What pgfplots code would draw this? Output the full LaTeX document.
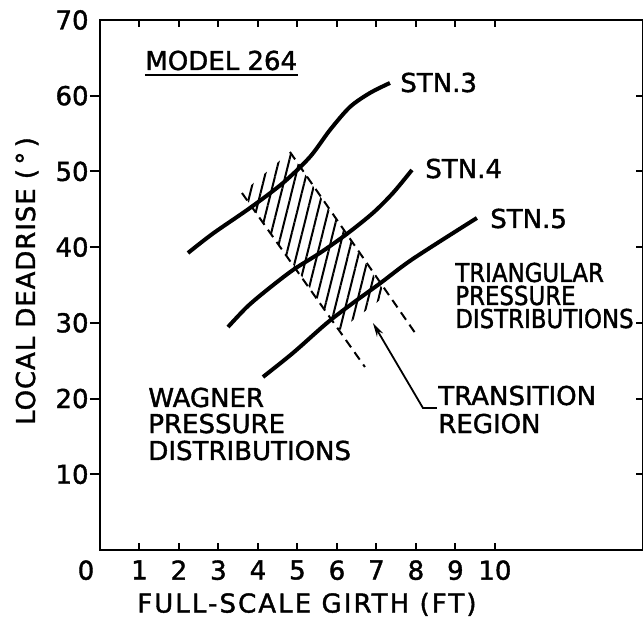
\documentclass[border=0pt]{standalone}
\usepackage{fontspec}
\setmainfont{DejaVu Sans}[FakeBold=1.5]
\usepackage{pgfplots}
\pgfplotsset{compat=1.18}
\usetikzlibrary{patterns.meta,arrows.meta}

\begin{document}
\begin{tikzpicture}[font=\fontsize{13}{15}\selectfont]
\begin{axis}[
  name=ax,
  scale only axis, width=271.5pt, height=265pt,
  xmin=0, xmax=13.75, ymin=0, ymax=70,
  clip=false,
  axis line style={line width=1.2pt},
  xtick={1,...,10}, xtick pos=both,
  ytick={10,20,...,70}, ytick pos=right, yticklabel pos=left,
  tick align=inside, major tick length=3.5pt,
  tick style={line width=1pt, black},
  /pgf/number format/assume math mode=true,
  tick label style={font=\fontsize{13}{15}\selectfont},
  xticklabel style={inner sep=0pt, anchor=north, yshift=-5pt},
  yticklabel style={inner sep=0pt, anchor=east, xshift=-5.5pt},
  xlabel={\addfontfeature{LetterSpace=8}FULL-SCALE GIRTH (FT)},
  ylabel={\addfontfeature{LetterSpace=3.5}LOCAL DEADRISE (\,°\,)},
  every axis x label/.style={at={(axis description cs:0.381,-0.118)}, anchor=base, inner sep=0pt},
  every axis y label/.style={at={(axis description cs:-0.1197,0.5075)}, anchor=base, rotate=90, inner sep=0pt},
]
% transition region (hatched band)
\addplot[draw=none, pattern={Lines[angle=76,distance=5pt,line width=1pt]}]
  coordinates {(3.595,47.15) (4.810,52.57) (7.266,33.68) (6.076,29.06) (3.595,47.15)};
\addplot[line width=1pt, dash pattern=on 4.5pt off 3pt]
  coordinates {(3.595,47.15) (6.709,24.17)};
\addplot[line width=1pt, dash pattern=on 4.5pt off 3pt]
  coordinates {(4.810,52.57) (8.051,28.13)};
% STN.3
\addplot[line width=2pt, smooth] coordinates {
  (2.228,39.23) (2.861,41.80) (3.797,45.17) (4.633,48.47) (5.316,51.91)
  (5.823,55.47) (6.329,58.51) (6.835,60.36) (7.342,61.68)};
% STN.4
\addplot[line width=2pt, smooth] coordinates {
  (3.241,29.45) (3.722,32.10) (4.228,34.34) (4.886,36.98) (5.570,39.23)
  (6.253,41.75) (6.911,44.51) (7.418,47.15) (7.899,50.19)};
% STN.5
\addplot[line width=2pt, smooth] coordinates {
  (4.127,22.85) (4.886,26.02) (5.747,29.98) (6.405,32.62) (7.089,35.20)
  (7.924,38.45) (9.544,43.85)};

\coordinate (BL) at (rel axis cs:0,0);
\coordinate (TR) at (rel axis cs:1,1);

\node[anchor=north, inner sep=0pt, xshift=-7pt, yshift=-5pt] at (axis cs:0,0) {0};

\node[anchor=base west, inner sep=0pt] (M) at (axis cs:1.139,63.40) {MODEL 264};
\draw[line width=1pt] ([yshift=-2.5pt]M.base west) -- ([yshift=-2.5pt]M.base east);

\node[anchor=base west, inner sep=0pt] at (axis cs:7.595,60.49) {STN.3};
\node[anchor=base west, inner sep=0pt] at (axis cs:8.228,49.13) {STN.4};
\node[anchor=base west, inner sep=0pt] at (axis cs:9.873,42.53) {STN.5};

\begin{scope}[font=\fontsize{13}{15}\selectfont\addfontfeature{FakeStretch=0.88,FakeBold=1.5}]
\node[anchor=base west, inner sep=0pt] at (axis cs:8.987,35.40) {TRIANGULAR};
\node[anchor=base west, inner sep=0pt] at (axis cs:8.987,32.36) {PRESSURE};
\node[anchor=base west, inner sep=0pt] at (axis cs:8.987,29.32) {DISTRIBUTIONS};
\end{scope}

\node[anchor=base west, inner sep=0pt] at (axis cs:1.215,18.89) {WAGNER};
\node[anchor=base west, inner sep=0pt] at (axis cs:1.215,15.45) {PRESSURE};
\node[anchor=base west, inner sep=0pt] at (axis cs:1.215,11.89) {DISTRIBUTIONS};

\node[anchor=base west, inner sep=0pt] at (axis cs:8.557,19.15) {TRANSITION};
\node[anchor=base west, inner sep=0pt] at (axis cs:8.557,15.45) {REGION};

\draw[line width=0.9pt, -{Stealth[length=7pt,width=3.5pt]}]
  (axis cs:8.532,18.76) -- (axis cs:8.177,18.76) -- (axis cs:6.911,29.98);
\end{axis}

% left axis: outward ticks
\begin{axis}[
  scale only axis, width=271.5pt, height=265pt,
  xmin=0, xmax=13.75, ymin=0, ymax=70,
  hide x axis, axis y line*=left,
  axis line style={line width=1.2pt},
  ytick={10,20,...,60}, yticklabels={},
  tick align=outside, major tick length=5pt,
  tick style={line width=1pt, black},
]
\addplot[draw=none] coordinates {(1,1)};
\end{axis}

\pgfresetboundingbox
\path[use as bounding box] ([xshift=-50pt,yshift=-34pt]BL) rectangle ([yshift=10pt]TR);
\end{tikzpicture}
\end{document}
